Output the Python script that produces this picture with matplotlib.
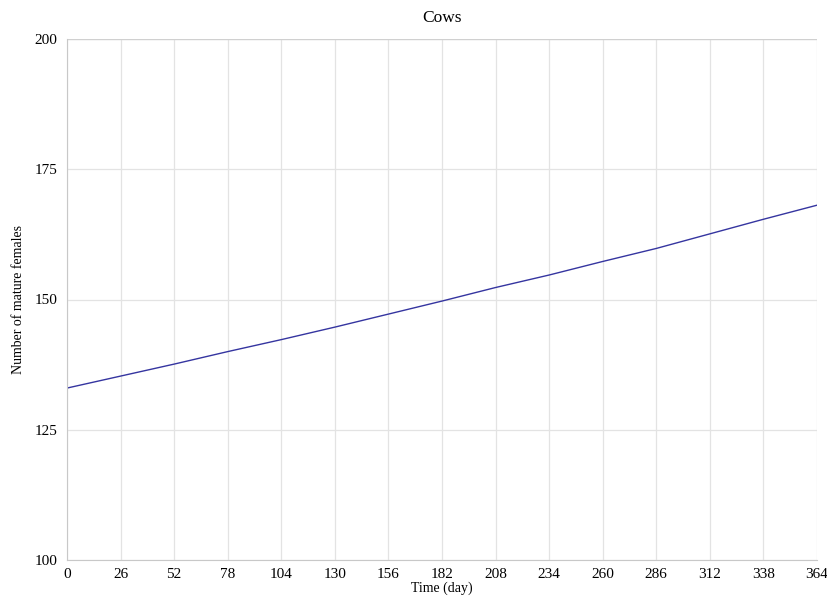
import matplotlib
matplotlib.use('Agg')
import matplotlib.pyplot as plt

days = [0, 26, 52, 78, 104, 130, 156, 182, 208, 234, 260, 286, 312, 338, 364]
females = [133.0, 135.3, 137.6, 140.0, 142.3, 144.7, 147.2, 149.7, 152.3,
           154.7, 157.3, 159.8, 162.6, 165.4, 168.1]
yticks = [100, 125, 150, 175, 200]

plt.rcParams['font.family'] = ['Liberation Serif', 'DejaVu Serif']

fig = plt.figure(figsize=(8.27, 5.97), dpi=100)
ax = fig.add_axes([67/827, 1-560/597, 750/827, 521/597])

ax.plot(days, females, color='#3535a0', linewidth=1.0)

ax.set_xlim(0, 364)
ax.set_ylim(100, 200)
ax.set_xticks(days)
ax.set_yticks(yticks)
ax.grid(True, color='#e3e3e3', linewidth=0.9)
ax.tick_params(length=0, labelsize=11, pad=7)
ax.tick_params(axis='x', pad=6)
for s in ['top', 'right']:
    ax.spines[s].set_visible(False)
for s in ['left', 'bottom']:
    ax.spines[s].set_color('#c8c8c8')
ax.axhline(200, color='#d0d0d0', linewidth=0.9)

ax.set_title('Cows', fontsize=12.5, pad=12)
ax.set_xlabel('Time (day)', fontsize=10, labelpad=0)
ax.set_ylabel('Number of mature females', fontsize=10, va='center')
ax.yaxis.set_label_coords(-49/750, 0.5)

fig.savefig('out.png', dpi=100)
